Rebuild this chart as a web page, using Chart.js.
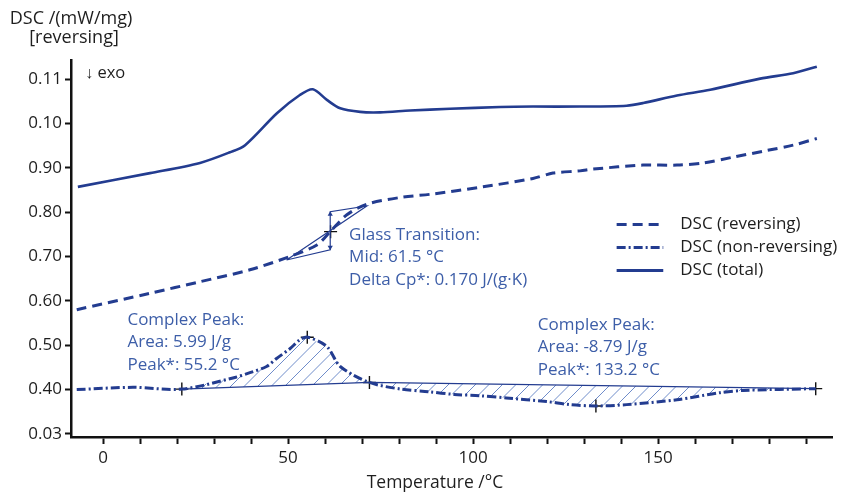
<!DOCTYPE html>
<html>
<head>
<meta charset="utf-8">
<script src="https://cdn.jsdelivr.net/npm/chart.js@4.4.0/dist/chart.umd.min.js"></script>
<style>
  html, body { margin: 0; padding: 0; background: #fff; }
  #wrap { width: 843px; height: 494px; }
</style>
</head>
<body>
<div id="wrap"><canvas id="chart-dsc" width="843" height="494"></canvas></div>
<script>
// ── data (temperature °C, plotted value) ──
const yTickLabels = ['0.03', '0.40', '0.50', '0.60', '0.70', '0.80', '0.90', '0.10', '0.11'];

const totalT = [-6.8, 12.7, 26.2, 34.3, 38.4, 47.0, 53.2, 56.7, 60.5, 64.1, 69.5, 74.9, 83.0, 93.8, 107.3, 116.2, 128.9, 141.5, 146.0, 155.1, 164.1, 177.6, 186.5, 192.9];
const totalY = [0.857, 0.888, 0.911, 0.935, 0.951, 1.023, 1.064, 1.077, 1.053, 1.034, 1.026, 1.025, 1.029, 1.033, 1.037, 1.038, 1.038, 1.040, 1.046, 1.063, 1.076, 1.101, 1.113, 1.128];

const revT = [-7.1, 12.7, 26.2, 39.7, 50.5, 57.8, 61.4, 65.9, 71.3, 80.3, 89.2, 102.7, 116.2, 121.6, 128.9, 132.4, 145.9, 155.1, 162.2, 170.3, 179.4, 186.5, 192.9];
const revY = [0.580, 0.617, 0.643, 0.670, 0.700, 0.726, 0.756, 0.794, 0.818, 0.833, 0.841, 0.857, 0.876, 0.888, 0.893, 0.897, 0.906, 0.906, 0.911, 0.924, 0.939, 0.951, 0.966];

const nonRevT = [-7.1, 8.1, 21.3, 35.1, 39.7, 44.2, 46.9, 50.5, 53.2, 55.3, 60.5, 64.1, 72.0, 80.5, 88.0, 94.9, 101.9, 109.0, 119.9, 126.2, 133.2, 141.5, 155.1, 166.8, 173.0, 192.6];
const nonRevY = [0.400, 0.405, 0.401, 0.426, 0.438, 0.452, 0.470, 0.492, 0.512, 0.518, 0.497, 0.452, 0.416, 0.401, 0.395, 0.389, 0.386, 0.381, 0.373, 0.366, 0.363, 0.366, 0.377, 0.393, 0.398, 0.402];

// evaluation marks
const markT = [21.3, 55.2, 72.0, 133.2, 192.6, 61.5];
const markY = [0.401, 0.518, 0.416, 0.363, 0.402, 0.756];
const baselineT = [21.3, 72.0, 192.6];
const baselineY = [0.401, 0.416, 0.402];
// glass transition construction: lower tangent, step, upper tangent, inflection line
const glassT = [49.6, 61.4, 61.4, 71.3, 49.6];
const glassY = [0.692, 0.715, 0.801, 0.814, 0.692];
const arrowT = [61.4, 61.4];
const arrowY = [0.795, 0.721];

const legendLabels = ['DSC (reversing)', 'DSC (non-reversing)', 'DSC (total)'];
const notes = [
  { t: 66.5, y: 0.749, lines: ['Glass Transition:', 'Mid: 61.5 °C', 'Delta Cp*: 0.170 J/(g·K)'] },
  { t: 6.6, y: 0.557, lines: ['Complex Peak:', 'Area: 5.99 J/g', 'Peak*: 55.2 °C'] },
  { t: 117.5, y: 0.546, lines: ['Complex Peak:', 'Area: -8.79 J/g', 'Peak*: 133.2 °C'] },
];

const pts = (xs, ys) => xs.map((x, i) => ({ x, y: ys[i] }));

const NAVY = '#233c90';
const NOTE = '#3d5ea8';
const INK = '#1e1e1e';
const FONT = '"Open Sans", "Noto Sans", sans-serif';
const DASH_REV = [10, 6];
const DASH_NONREV = [9, 3, 2, 3];

// hatch between the non-reversing curve and its integration baseline
const hatchPlugin = {
  id: 'hatch',
  beforeDatasetsDraw(chart) {
    const { ctx, scales: { x, y }, chartArea } = chart;
    const spans = [[0, 1], [1, 2]];
    spans.forEach(([a, b]) => {
      const t0 = baselineT[a], t1 = baselineT[b];
      ctx.save();
      ctx.beginPath();
      ctx.moveTo(x.getPixelForValue(t0), y.getPixelForValue(baselineY[a]));
      nonRevT.forEach((t, i) => {
        if (t > t0 && t < t1) ctx.lineTo(x.getPixelForValue(t), y.getPixelForValue(nonRevY[i]));
      });
      ctx.lineTo(x.getPixelForValue(t1), y.getPixelForValue(baselineY[b]));
      ctx.closePath();
      ctx.clip();
      ctx.strokeStyle = '#4a6fbd';
      ctx.lineWidth = 0.8;
      ctx.beginPath();
      const h = chartArea.bottom - chartArea.top;
      for (let px = chartArea.left - h; px < chartArea.right; px += 13.5) {
        ctx.moveTo(px, chartArea.bottom);
        ctx.lineTo(px + h, chartArea.top);
      }
      ctx.stroke();
      ctx.restore();
    });
  },
};

// titles, notes and the in-plot legend
const textPlugin = {
  id: 'texts',
  afterDraw(chart) {
    const { ctx, scales: { x, y } } = chart;
    ctx.save();
    ctx.fillStyle = INK;
    ctx.textBaseline = 'middle';
    ctx.textAlign = 'center';
    ctx.font = `18px ${FONT}`;
    ctx.fillText('DSC /(mW/mg)', 71, 19);
    ctx.fillText('[reversing]', 74, 38);
    ctx.font = `17.5px ${FONT}`;
    ctx.fillText('Temperature /°C', x.getPixelForValue(89.7), 483);

    ctx.textAlign = 'left';
    ctx.font = `16.5px ${FONT}`;
    ctx.fillText('↓ exo', x.getPixelForValue(-4.9), y.getPixelForValue(1.114));

    ctx.fillStyle = NOTE;
    ctx.font = `17px ${FONT}`;
    notes.forEach(n => {
      const px = x.getPixelForValue(n.t), py = y.getPixelForValue(n.y);
      n.lines.forEach((s, i) => ctx.fillText(s, px, py + i * 22.5));
    });

    // legend
    const lx0 = x.getPixelForValue(138.8), lx1 = x.getPixelForValue(151.4), tx = x.getPixelForValue(156.0);
    const ly = y.getPixelForValue(0.772);
    const dashes = [DASH_REV, DASH_NONREV, []];
    legendLabels.forEach((lab, i) => {
      const yy = ly + i * 23;
      ctx.strokeStyle = NAVY;
      ctx.lineWidth = 3;
      ctx.setLineDash(dashes[i]);
      ctx.beginPath();
      ctx.moveTo(lx0, yy);
      ctx.lineTo(lx1, yy);
      ctx.stroke();
      ctx.setLineDash([]);
      ctx.fillStyle = INK;
      ctx.font = `17px ${FONT}`;
      ctx.fillText(lab, tx, yy);
    });
    ctx.restore();
  },
};

const thin = { borderColor: NAVY, borderWidth: 1.2, pointRadius: 0, fill: false, tension: 0 };

new Chart(document.getElementById('chart-dsc'), {
  type: 'line',
  data: {
    datasets: [
      { label: legendLabels[0], data: pts(revT, revY), borderColor: NAVY, borderWidth: 3, borderDash: DASH_REV, pointRadius: 0, tension: 0.3 },
      { label: legendLabels[1], data: pts(nonRevT, nonRevY), borderColor: NAVY, borderWidth: 3, borderDash: DASH_NONREV, pointRadius: 0, tension: 0.3 },
      { label: legendLabels[2], data: pts(totalT, totalY), borderColor: NAVY, borderWidth: 2.6, pointRadius: 0, tension: 0.3 },
      { label: 'baseline', data: pts(baselineT, baselineY), ...thin },
      { label: 'glass', data: pts(glassT, glassY), ...thin },
      { label: 'arrows', data: pts(arrowT, arrowY), showLine: false, pointStyle: 'triangle', pointRadius: 3, pointRotation: [0, 180], backgroundColor: NAVY, borderColor: NAVY, borderWidth: 0 },
      { label: 'marks', data: pts(markT, markY), showLine: false, pointStyle: 'cross', pointRadius: 6.5, borderColor: '#111', borderWidth: 1.4 },
    ],
  },
  options: {
    responsive: false, animation: false,
    layout: { padding: { top: 60, right: 11, left: 0, bottom: 0 } },
    plugins: { legend: { display: false }, tooltip: { enabled: false } },
    scales: {
      x: {
        type: 'linear', min: -8.65, max: 197,
        border: { color: '#111', width: 2.5 },
        grid: { drawOnChartArea: false, tickLength: 7, tickColor: '#111', tickWidth: 2 },
        ticks: {
          stepSize: 10, includeBounds: false, autoSkip: false, maxRotation: 0, padding: 4,
          color: INK, font: { family: FONT, size: 17 },
          callback: v => (Math.round(v) % 50 === 0 ? String(Math.round(v)) : ''),
        },
        afterFit(s) { s.height = 57; },
      },
      y: {
        min: 0.293, max: 1.143,
        border: { color: '#111', width: 2.5 },
        grid: { drawOnChartArea: false, tickLength: 6, tickColor: '#111', tickWidth: 2 },
        ticks: {
          stepSize: 0.1, includeBounds: false, padding: 3,
          color: INK, font: { family: FONT, size: 17 },
          callback: v => yTickLabels[Math.round((v - 0.3) * 10)] ?? '',
        },
        afterFit(s) { s.width = 71; },
      },
    },
  },
  plugins: [hatchPlugin, textPlugin],
});
</script>
</body>
</html>
